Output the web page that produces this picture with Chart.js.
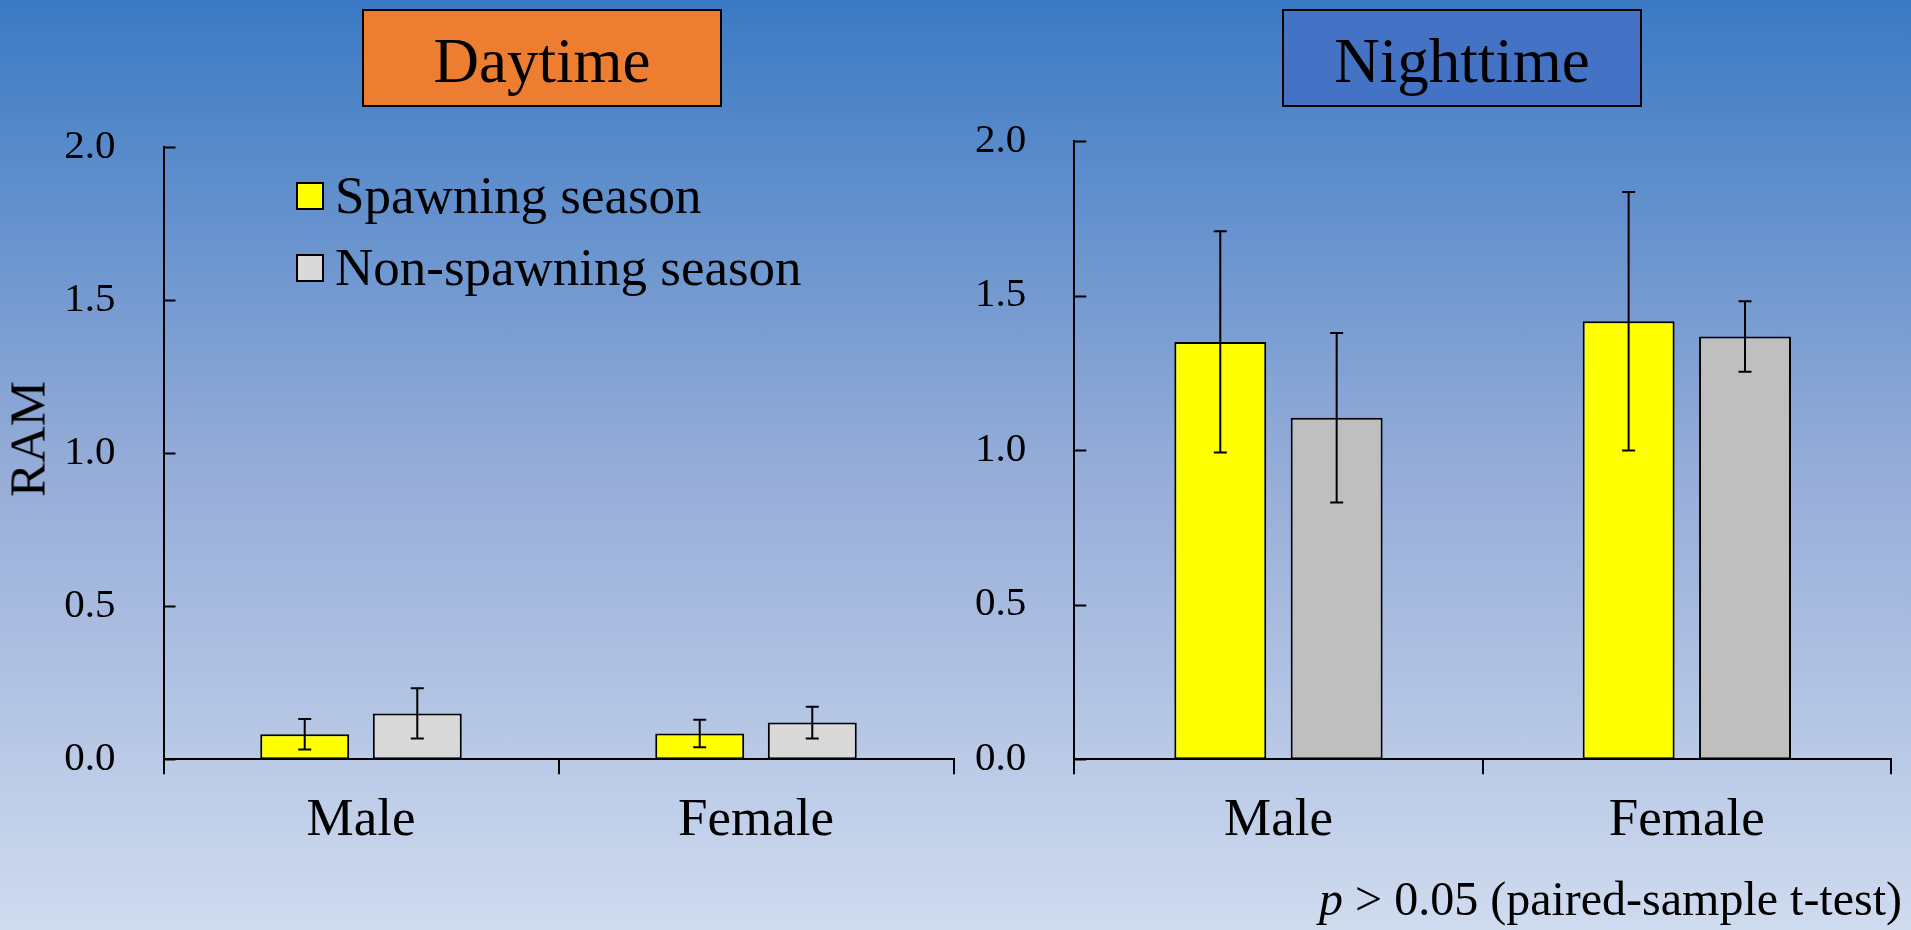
<!DOCTYPE html>
<html>
<head>
<meta charset="utf-8">
<script src="https://cdn.jsdelivr.net/npm/chart.js@4.4.1/dist/chart.umd.min.js"></script>
<style>
  html, body { margin: 0; padding: 0; width: 1911px; height: 930px; overflow: hidden; }
  body {
    position: relative;
    background: linear-gradient(to bottom, #3a7ac4 0%, #95acd8 50%, #cfdbef 100%);
    font-family: "Liberation Serif", "Times New Roman", serif;
    color: #000;
  }
  canvas { position: absolute; top: 0; }
  .tbox {
    position: absolute; top: 9px; width: 360px; height: 98px; box-sizing: border-box;
    border: 2px solid #000; display: flex; align-items: center; justify-content: center;
    font-size: 63px; line-height: 63px; padding-top: 6px;
  }
  .leg { position: absolute; left: 296px; display: flex; align-items: center; font-size: 53px; line-height: 53px; white-space: nowrap; }
  .leg i { display: inline-block; width: 28px; height: 28px; box-sizing: border-box; border: 2px solid #000; margin-right: 11px; }
  .ylab { position: absolute; left: 28px; top: 439px; font-size: 51px; line-height: 51px; transform: translate(-50%, -50%) rotate(-90deg); white-space: nowrap; }
  .note { position: absolute; right: 9px; top: 875px; font-size: 48px; line-height: 48px; white-space: nowrap; }
</style>
</head>
<body>
<canvas id="dayChart" width="960" height="930" style="left:0"></canvas>
<canvas id="nightChart" width="951" height="930" style="left:960px"></canvas>

<div class="tbox" style="left:362px; background:#ed7d31">Daytime</div>
<div class="tbox" style="left:1282px; background:#4472c4">Nighttime</div>
<div class="leg" style="top:169px"><i style="background:#ffff00"></i>Spawning season</div>
<div class="leg" style="top:241px"><i style="background:#d9d9d9"></i>Non-spawning season</div>
<div class="ylab">RAM</div>
<div class="note"><i>p</i> &gt; 0.05 (paired-sample t-test)</div>

<script>
const categories = ["Male", "Female"];
const yTicks = [0, 0.5, 1.0, 1.5, 2.0];

// daytime
const daySpawning = [0.082, 0.084];
const daySpawningErr = [0.05, 0.045];
const dayNonSpawning = [0.15, 0.12];
const dayNonSpawningErr = [0.082, 0.052];

// nighttime
const nightSpawning = [1.35, 1.417];
const nightSpawningErr = [0.358, 0.418];
const nightNonSpawning = [1.105, 1.368];
const nightNonSpawningErr = [0.274, 0.114];

const serif = '"Liberation Serif", "Times New Roman", serif';

// error bars on top of each bar
const errorBars = {
  id: "errorBars",
  afterDatasetsDraw(chart) {
    const ctx = chart.ctx;
    const y = chart.scales.y;
    ctx.save();
    ctx.strokeStyle = "#000";
    ctx.lineWidth = 2;
    chart.data.datasets.forEach((ds, i) => {
      chart.getDatasetMeta(i).data.forEach((bar, j) => {
        const v = ds.data[j], e = ds.errors[j];
        const t = y.getPixelForValue(v + e), b = y.getPixelForValue(v - e);
        ctx.beginPath();
        ctx.moveTo(bar.x, t); ctx.lineTo(bar.x, b);
        ctx.moveTo(bar.x - 6.5, t); ctx.lineTo(bar.x + 6.5, t);
        ctx.moveTo(bar.x - 6.5, b); ctx.lineTo(bar.x + 6.5, b);
        ctx.stroke();
      });
    });
    ctx.restore();
  }
};

// y tick marks point into the plot
const innerTicks = {
  id: "innerTicks",
  afterDraw(chart) {
    const ctx = chart.ctx;
    const y = chart.scales.y;
    const left = chart.chartArea.left;
    ctx.save();
    ctx.strokeStyle = "#000";
    ctx.lineWidth = 2;
    y.ticks.forEach(t => {
      const py = Math.round(y.getPixelForValue(t.value)) + 0.5;
      ctx.beginPath();
      ctx.moveTo(left, py);
      ctx.lineTo(left + 12, py);
      ctx.stroke();
    });
    ctx.restore();
  }
};

function makeChart(id, spawn, spawnErr, non, nonErr, greyColor, opts) {
  return new Chart(document.getElementById(id), {
    type: "bar",
    data: {
      labels: categories,
      datasets: [
        {
          label: "Spawning season",
          data: spawn,
          errors: spawnErr,
          backgroundColor: "#ffff00",
          borderColor: "#000",
          borderWidth: 2,
          borderSkipped: false,
          categoryPercentage: 0.57,
          barPercentage: 0.79,
        },
        {
          label: "Non-spawning season",
          data: non,
          errors: nonErr,
          backgroundColor: greyColor,
          borderColor: "#000",
          borderWidth: 2,
          borderSkipped: false,
          categoryPercentage: 0.57,
          barPercentage: 0.79,
        },
      ],
    },
    options: {
      responsive: false,
      animation: false,
      layout: { padding: { left: 0, top: opts.top, right: opts.right, bottom: 0 } },
      plugins: { legend: { display: false }, tooltip: { enabled: false } },
      scales: {
        x: {
          grid: { display: true, drawOnChartArea: false, drawTicks: true, tickLength: 15, color: "#000", lineWidth: 2, offset: true },
          border: { display: true, color: "#000", width: 2 },
          ticks: { color: "#000", font: { family: serif, size: 53 }, padding: 15, maxRotation: 0 },
          afterFit: s => { s.height = 930 - 759.3; },
        },
        y: {
          min: 0,
          max: 2,
          grid: { display: false, drawTicks: false },
          border: { display: true, color: "#000", width: 2 },
          afterBuildTicks: s => { s.ticks = yTicks.map(v => ({ value: v })); },
          ticks: {
            color: "#000",
            font: { family: serif, size: 41 },
            padding: 48,
            callback: v => Number(v).toFixed(1),
          },
          afterFit: s => { s.width = opts.yWidth; },
        },
      },
    },
    plugins: [errorBars, innerTicks],
  });
}

makeChart("dayChart", daySpawning, daySpawningErr, dayNonSpawning, dayNonSpawningErr, "#d9d9d9",
  { top: 147, right: 6.5, yWidth: 163.5 });
makeChart("nightChart", nightSpawning, nightSpawningErr, nightNonSpawning, nightNonSpawningErr, "#bfbfbf",
  { top: 141, right: 20, yWidth: 114.3 });
</script>
</body>
</html>
